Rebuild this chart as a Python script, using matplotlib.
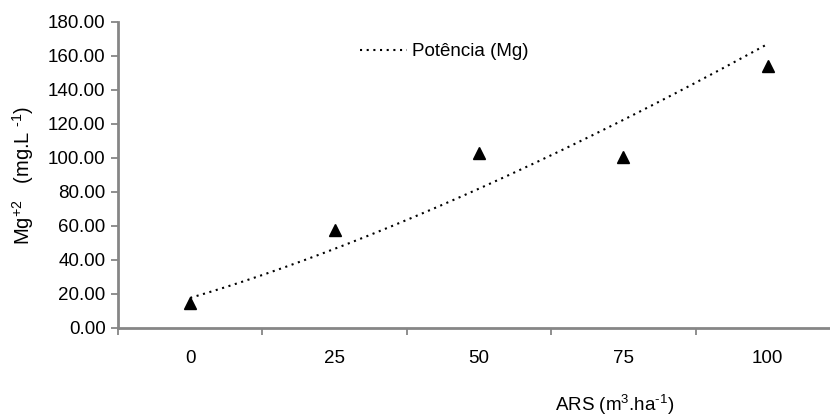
import numpy as np
import matplotlib
matplotlib.use('Agg')
import matplotlib.pyplot as plt
from matplotlib.ticker import FixedLocator, FormatStrFormatter

plt.rcParams['font.family'] = ['Liberation Sans', 'DejaVu Sans']
plt.rcParams['mathtext.fontset'] = 'custom'
plt.rcParams['mathtext.rm'] = 'Liberation Sans'
plt.rcParams['mathtext.it'] = 'Liberation Sans'

# data
categories = ['0', '25', '50', '75', '100']
mg_values = [15.0, 57.6, 103.0, 100.8, 154.3]
y_ticks = [0, 20, 40, 60, 80, 100, 120, 140, 160, 180]

W, H = 830, 418
AXIS_GREY = '#868686'
FS = 13.5


def power_trend(x, y):
    # Excel style power trendline: y = a * x^b, fitted in log space
    b, ln_a = np.polyfit(np.log(x), np.log(y), 1)
    return np.exp(ln_a), b


def main():
    fig = plt.figure(figsize=(W / 100, H / 100), dpi=100)
    ax = fig.add_axes([118 / W, 90 / H, (840 - 118) / W, (328 - 22) / H])

    x = np.arange(1, len(categories) + 1)
    a, b = power_trend(x, np.array(mg_values))
    xs = np.linspace(1, len(categories), 200)
    ax.plot(xs, a * xs ** b, color='black', linestyle=(0, (1, 2.2)),
            linewidth=1.5, label='Potência (Mg)')

    ax.plot(x, mg_values, linestyle='none', marker='^', markersize=9,
            color='black')

    ax.set_xlim(0.5, len(categories) + 0.5)
    ax.set_ylim(0, 180)

    # category axis: labels centred, tick marks between categories
    ax.set_xticks(x)
    ax.set_xticklabels(categories)
    ax.xaxis.set_minor_locator(FixedLocator(np.arange(0.5, len(categories) + 1, 1)))
    ax.tick_params(axis='x', which='major', length=0, pad=16, labelsize=FS)
    ax.tick_params(axis='x', which='minor', length=5, width=1.3,
                   color=AXIS_GREY, direction='out')

    ax.set_yticks(y_ticks)
    ax.yaxis.set_major_formatter(FormatStrFormatter('%.2f'))
    ax.tick_params(axis='y', length=5, width=1.3, color=AXIS_GREY,
                   direction='out', labelsize=FS, pad=4)

    for side in ['top', 'right']:
        ax.spines[side].set_visible(False)
    for side in ['left', 'bottom']:
        ax.spines[side].set_color(AXIS_GREY)
        ax.spines[side].set_linewidth(2)

    fig.text(23 / W, 1 - 175 / H, r'Mg$^{+2}$   (mg.L $^{\text{-}1}$)', fontsize=14.5,
             rotation=90, ha='center', va='center')

    fig.text(615 / W, 1 - 405 / H, r'ARS (m$^{3}$.ha$^{\text{-}1}$)', fontsize=FS,
             ha='center', va='center')

    ax.legend(loc='upper left', bbox_to_anchor=((360 - 118) / (840 - 118), (328 - 43) / (328 - 22)),
              frameon=False, fontsize=FS, handlelength=2.5, handletextpad=0.3,
              borderaxespad=0, borderpad=0)

    fig.savefig('out.png', dpi=100)


if __name__ == '__main__':
    main()
